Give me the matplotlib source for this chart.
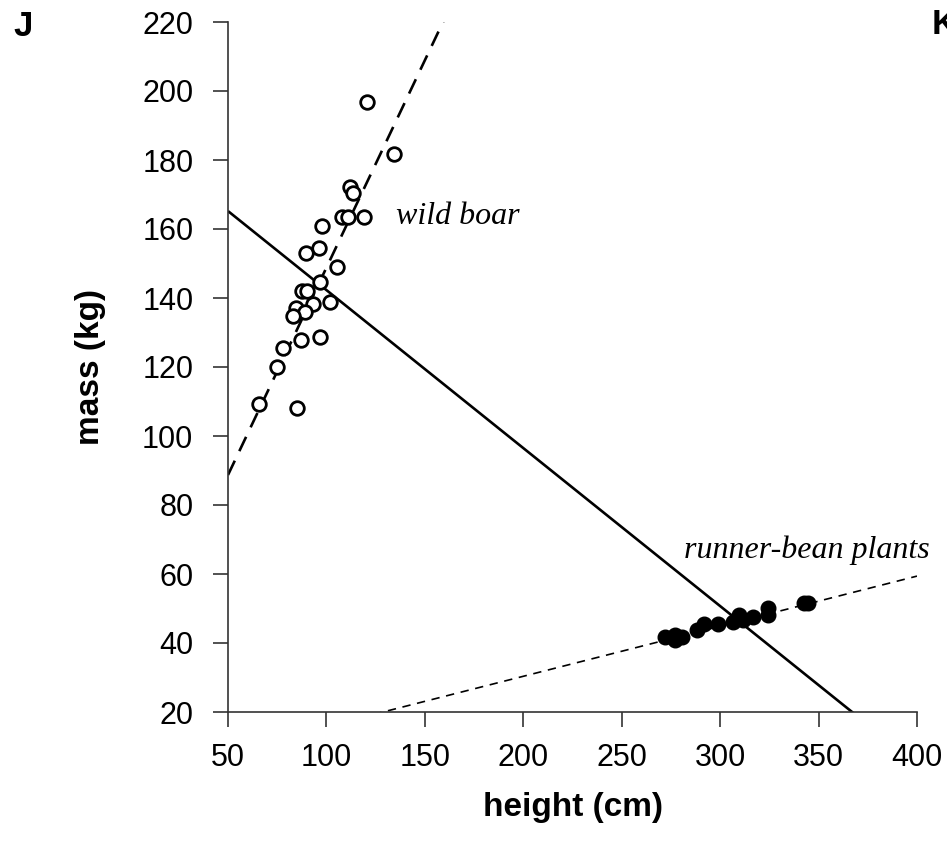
import matplotlib
matplotlib.use("Agg")
import matplotlib.pyplot as plt
import numpy as np

# wild boar (open circles)
boar_height = [120.4, 134.3, 112.0, 113.7, 107.8, 110.8, 119.3, 97.6, 89.6, 96.4,
               105.5, 96.7, 87.4, 90.3, 93.3, 101.8, 84.5, 89.1, 82.9, 87.1,
               96.7, 78.1, 75.0, 65.9, 85.2]
boar_mass = [196.9, 181.7, 172.3, 170.3, 163.6, 163.6, 163.6, 160.9, 153.1, 154.4,
             149.1, 144.7, 142.1, 142.1, 138.3, 138.9, 137.0, 136.0, 134.8, 127.8,
             128.8, 125.6, 120.1, 109.3, 108.0]

# runner-bean plants (filled circles)
bean_height = [272.0, 277.0, 280.5, 277.0, 288.1, 291.8, 299.1, 306.7, 309.7, 311.8,
               316.5, 324.5, 324.5, 342.7, 344.5]
bean_mass = [41.8, 42.3, 41.6, 40.9, 43.8, 45.5, 45.5, 46.2, 48.1, 46.7,
             47.6, 50.1, 48.1, 51.5, 51.5]

# regression lines (intercept, slope)
boar_fit = (28.6, 1.202)
bean_fit = (1.31, 0.1452)
all_fit = (188.1, -0.458)

xticks = [50, 100, 150, 200, 250, 300, 350, 400]
yticks = [20, 40, 60, 80, 100, 120, 140, 160, 180, 200, 220]

fig = plt.figure(figsize=(9.47, 8.56), dpi=100)
ax = fig.add_axes([228/947, 1-712/856, (917-228)/947, (712-22)/856])

ax.set_xlim(50, 400)
ax.set_ylim(20, 220)

xs = np.linspace(50, 400, 500)
ax.plot(xs, all_fit[0] + all_fit[1]*xs, color='black', lw=1.9, solid_capstyle='butt')
ax.plot(xs, boar_fit[0] + boar_fit[1]*xs, color='black', lw=1.9, dashes=(6, 4))
ax.plot(xs, bean_fit[0] + bean_fit[1]*xs, color='black', lw=1.2, dashes=(5, 4))

ax.plot(boar_height, boar_mass, 'o', ms=9.8, mfc='white', mec='black', mew=2.0,
        linestyle='none', zorder=3)
ax.plot(bean_height, bean_mass, 'o', ms=10.5, mfc='black', mec='black', mew=1.0,
        linestyle='none', zorder=3)

ax.text(166.8, 163.5, 'wild boar', fontsize=23, style='italic',
        family='Liberation Serif', ha='center', va='center')
ax.text(343.9, 67.0, 'runner-bean plants', fontsize=23, style='italic',
        family='Liberation Serif', ha='center', va='center', clip_on=False)

for s in ['top', 'right']:
    ax.spines[s].set_visible(False)
for s in ['left', 'bottom']:
    ax.spines[s].set_color('#333333')
    ax.spines[s].set_linewidth(1.2)

ax.set_xticks(xticks)
ax.set_yticks(yticks)
ax.tick_params(direction='out', length=11, width=1.2, color='#333333',
               labelsize=22)
ax.tick_params(axis='y', pad=14)
ax.tick_params(axis='x', pad=11)
for lab in ax.get_xticklabels() + ax.get_yticklabels():
    lab.set_family('Liberation Sans')

ax.set_xlabel('height (cm)', fontsize=24, fontweight='bold', family='Liberation Sans',
              labelpad=14)
ax.set_ylabel('mass (kg)', fontsize=24, fontweight='bold', family='Liberation Sans',
              labelpad=26)

fig.text(13/947, 1-26/856, 'J', fontsize=25, fontweight='bold', family='Liberation Sans',
         va='center', ha='left')
fig.text(932/947, 1-24/856, 'K', fontsize=25, fontweight='bold', family='Liberation Sans',
         va='center', ha='left')

fig.savefig('out.png', dpi=100)
